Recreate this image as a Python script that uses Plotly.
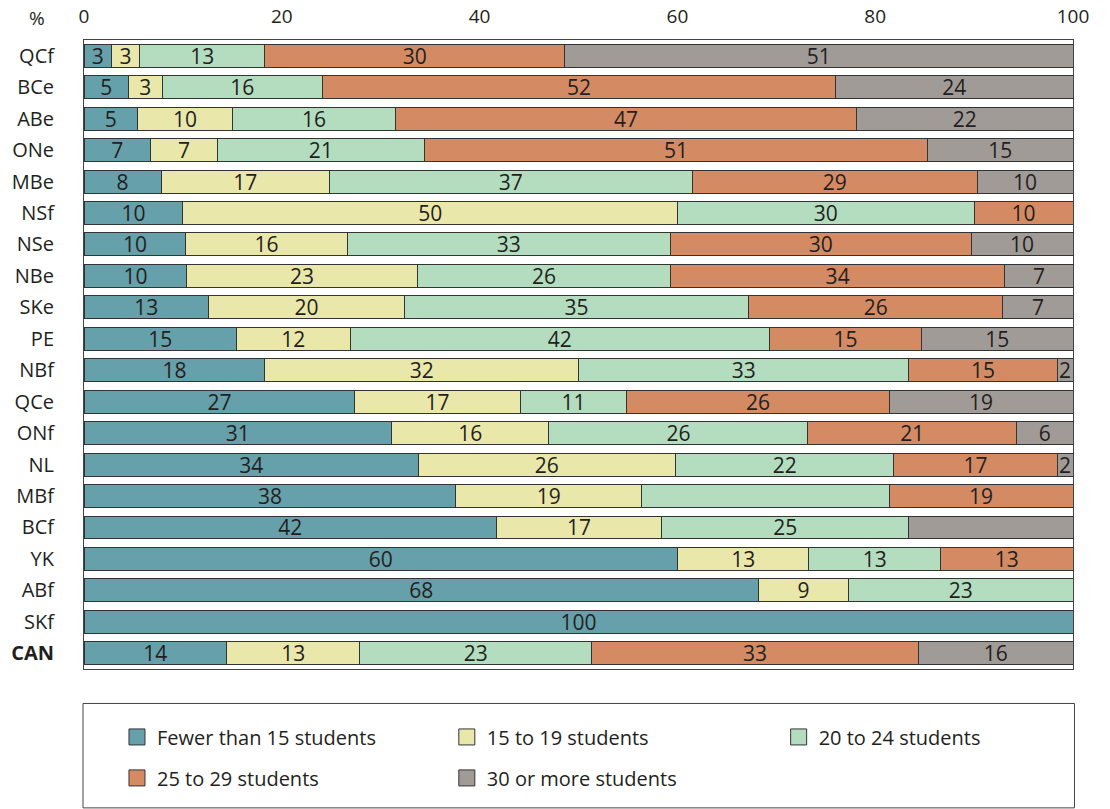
import plotly.graph_objects as go

# ---------------- data ----------------
categories = ["QCf", "BCe", "ABe", "ONe", "MBe", "NSf", "NSe", "NBe", "SKe", "PE",
              "NBf", "QCe", "ONf", "NL", "MBf", "BCf", "YK", "ABf", "SKf", "CAN"]

series_names = ["Fewer than 15 students", "15 to 19 students", "20 to 24 students",
                "25 to 29 students", "30 or more students"]

fewer_15 = [2.8, 4.5, 5.4, 6.7, 7.8, 10.0, 10.3, 10.4, 12.6, 15.4,
            18.3, 27.4, 31.1, 33.8, 37.6, 41.7, 60.0, 68.2, 100.0, 14.4]
s15_19 = [2.8, 3.4, 9.6, 6.8, 17.0, 50.0, 16.3, 23.3, 19.8, 11.5,
          31.7, 16.7, 15.9, 26.0, 18.8, 16.7, 13.3, 9.1, None, 13.5]
s20_24 = [12.7, 16.2, 16.5, 20.9, 36.7, 30.0, 32.7, 25.6, 34.8, 42.4,
          33.4, 10.8, 26.2, 22.1, 25.0, 25.0, 13.3, 22.7, None, 23.4]
s25_29 = [30.3, 51.9, 46.6, 50.9, 28.8, 10.0, 30.4, 33.8, 25.7, 15.4,
          15.0, 26.5, 21.1, 16.5, 18.6, None, 13.4, None, None, 33.1]
s30_plus = [51.4, 24.0, 21.9, 14.7, 9.7, None, 10.3, 6.9, 7.1, 15.3,
            1.6, 18.6, 5.7, 1.6, None, 16.6, None, None, None, 15.6]

# printed labels (as shown in the chart)
lab_fewer_15 = ["3", "5", "5", "7", "8", "10", "10", "10", "13", "15",
                "18", "27", "31", "34", "38", "42", "60", "68", "100", "14"]
lab_15_19 = ["3", "3", "10", "7", "17", "50", "16", "23", "20", "12",
             "32", "17", "16", "26", "19", "17", "13", "9", "", "13"]
lab_20_24 = ["13", "16", "16", "21", "37", "30", "33", "26", "35", "42",
             "33", "11", "26", "22", "", "25", "13", "23", "", "23"]
lab_25_29 = ["30", "52", "47", "51", "29", "10", "30", "34", "26", "15",
             "15", "26", "21", "17", "19", "", "13", "", "", "33"]
lab_30_plus = ["51", "24", "22", "15", "10", "", "10", "7", "7", "15",
               "2", "19", "6", "2", "", "", "", "", "", "16"]

x_ticks = [0, 20, 40, 60, 80, 100]

# ---------------- style ----------------
colors = ["#66A0AA", "#EAE7AB", "#B4DDC0", "#D48B64", "#A19B97"]
FONT = "Open Sans"
TXT = "#231f20"
EDGE = "#333333"
FRAME = "#444444"

W, H = 1110, 809
plot_l, plot_r, plot_t, plot_b = 84, 1073.5, 39.5, 669
pw, ph = plot_r - plot_l, plot_b - plot_t

def px_x(px):
    return (px - plot_l) / pw

def px_y(py):
    return (plot_b - py) / ph

# legend placement (pixel coords: entry origin x, row centre y)
legend_ids = ["legend", "legend2", "legend3", "legend4", "legend5"]
legend_px = [(117, 737), (447, 737), (779, 737), (117, 778), (447, 778)]

values = [fewer_15, s15_19, s20_24, s25_29, s30_plus]
labels = [lab_fewer_15, lab_15_19, lab_20_24, lab_25_29, lab_30_plus]

fig = go.Figure()
for name, vals, labs, col in zip(series_names, values, labels, colors):
    fig.add_trace(go.Bar(
        y=categories, x=vals, name=name, orientation="h",
        text=labs, textposition="inside", insidetextanchor="middle", textangle=0,
        textfont=dict(family=FONT, size=21, color=TXT),
        marker=dict(color=col, line=dict(color=EDGE, width=1)),
        legendgroup=name, showlegend=False, hoverinfo="x+name",
    ))

# legend-only entries (larger square swatches)
for name, col, leg in zip(series_names, colors, legend_ids):
    fig.add_trace(go.Scatter(
        x=[None], y=[None], mode="markers", name=name, legendgroup=name,
        marker=dict(symbol="square", size=16, color=col, line=dict(color=EDGE, width=1)),
        legend=leg, showlegend=True, hoverinfo="skip",
    ))

ticktext = [("<b>%s</b>" % c) if c == "CAN" else c for c in categories]

legend_layouts = {}
for leg, (lx, ly) in zip(legend_ids, legend_px):
    legend_layouts[leg] = dict(
        orientation="h", x=px_x(lx), xanchor="left", y=px_y(ly), yanchor="middle",
        font=dict(family=FONT, size=20, color=TXT), bgcolor="rgba(0,0,0,0)",
        borderwidth=0,
    )

fig.update_layout(
    width=W, height=H,
    margin=dict(l=plot_l, r=W - plot_r, t=plot_t, b=H - plot_b, pad=0, autoexpand=False),
    barmode="stack", bargap=0.27,
    plot_bgcolor="white", paper_bgcolor="white",
    font=dict(family=FONT, size=20, color=TXT),
    uniformtext=dict(minsize=21, mode="show"),
    xaxis=dict(
        range=[0, 100], side="top", tickvals=x_ticks, ticktext=[str(t) for t in x_ticks],
        ticks="outside", ticklen=8, tickcolor="rgba(0,0,0,0)",
        showgrid=False, zeroline=False,
        showline=True, linecolor=FRAME, linewidth=1, mirror=True,
        tickfont=dict(family=FONT, size=19, color=TXT), fixedrange=True,
    ),
    yaxis=dict(
        type="category", categoryorder="array", categoryarray=categories,
        autorange="reversed", tickvals=categories, ticktext=ticktext,
        ticks="", ticklabelstandoff=25,
        showgrid=False, zeroline=False,
        showline=True, linecolor=FRAME, linewidth=1, mirror=True,
        tickfont=dict(family=FONT, size=20, color=TXT), fixedrange=True,
    ),
    shapes=[dict(
        type="rect", xref="paper", yref="paper",
        x0=px_x(83), x1=px_x(1075), y0=px_y(808), y1=px_y(703.5),
        line=dict(color=FRAME, width=1), fillcolor="rgba(0,0,0,0)", layer="below",
    )],
    annotations=[dict(
        text="%", xref="paper", yref="paper", x=px_x(37), y=px_y(17),
        xanchor="center", yanchor="middle", showarrow=False,
        font=dict(family=FONT, size=19, color=TXT),
    )],
    **legend_layouts,
)

fig.write_html(
    "out.html",
    config={"displayModeBar": False},
    post_script="document.body.style.margin='0';document.body.style.padding='0';",
)
